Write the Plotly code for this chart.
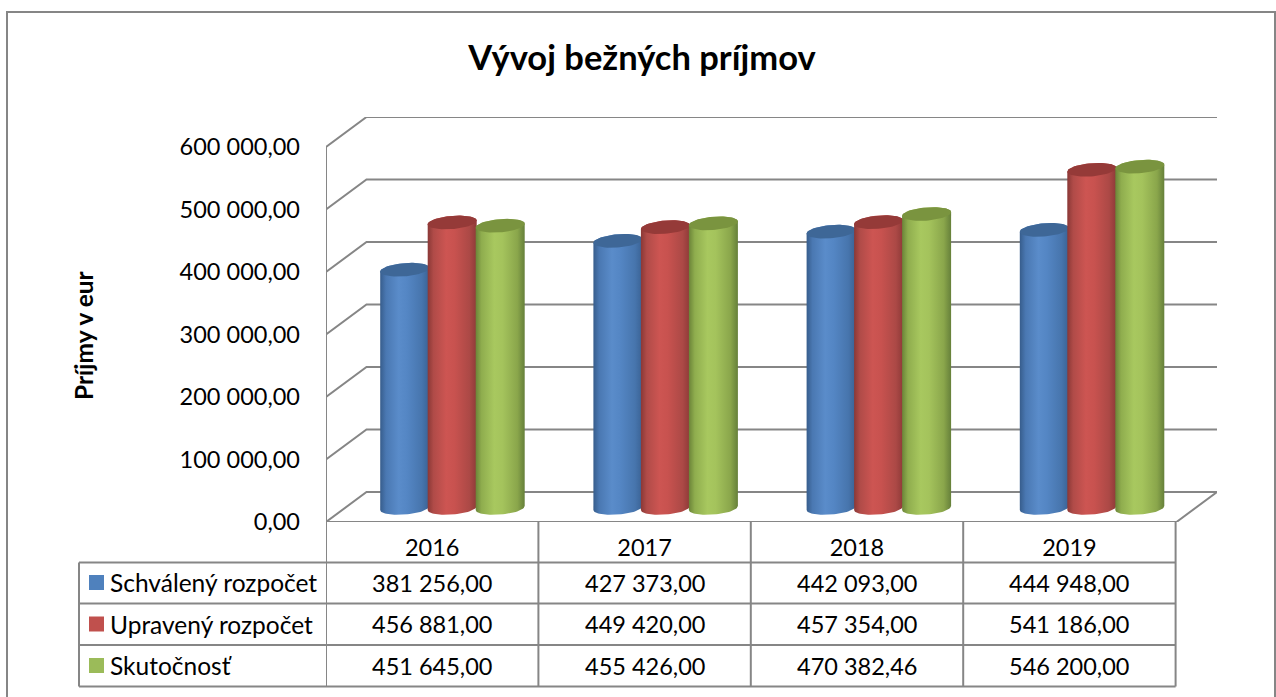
import numpy as np
import plotly.graph_objects as go

# ---------- data ----------
years = [2016, 2017, 2018, 2019]
schvaleny = [381256.00, 427373.00, 442093.00, 444948.00]
upraveny = [456881.00, 449420.00, 457354.00, 541186.00]
skutocnost = [451645.00, 455426.00, 470382.46, 546200.00]
series_names = ["Schválený rozpočet", "Upravený rozpočet", "Skutočnosť"]
y_ticks = [0, 100000, 200000, 300000, 400000, 500000, 600000]
title_text = "Vývoj bežných príjmov"
y_title = "Príjmy v eur"

# ---------- page geometry ----------
W, H = 1276, 697
L, R, T, B = 326.0, 1217.0, 117.0, 522.0      # plot box in page pixels
PX_PER_YEAR = 212.4
PX_PER_UNIT = 0.000625
X0 = 2015.5
X1 = X0 + (R - L) / PX_PER_YEAR
Y1 = (B - T) / PX_PER_UNIT
DX = 40.5 / PX_PER_YEAR                       # wall depth, in axis units
DY = 30.0 / PX_PER_UNIT
FONT = "Lato"
GREY = "#868686"
LINE = 2

def px(xpix):
    return (xpix - L) / (R - L)

def py(ypix):
    return (B - ypix) / (B - T)

def fmt(v):
    return f"{v:,.2f}".replace(",", " ").replace(".", ",")

# ---------- cylinders ----------
styles = [
    dict(side=["#375d8c", "#4a78b2", "#5a8cca", "#5486c4", "#4775ad", "#3a6294"], top="#3e6797", key="#4f81bd"),
    dict(side=["#8a3836", "#b04b48", "#cd5552", "#c8524f", "#ac4946", "#8e3a38"], top="#953a38", key="#c0504d"),
    dict(side=["#6b8438", "#8fad4e", "#a8c85f", "#a4c35c", "#8aa64b", "#66803a"], top="#7a943f", key="#9bbb59"),
]
stops = [0, 0.12, 0.38, 0.55, 0.85, 1]
BAR_W = 49.0 / PX_PER_YEAR
SEMI_X = BAR_W / 2
SEMI_Y = 6.6 / PX_PER_UNIT
TILT_Y = 1.9 / PX_PER_UNIT                    # rim tilt (right side higher)
FLOOR = 14.0 / PX_PER_UNIT                    # cylinder base above front axis line
OFFSETS = [-52.0 / PX_PER_YEAR, -4.5 / PX_PER_YEAR, 43.5 / PX_PER_YEAR]
SPREAD = 0.8 / PX_PER_YEAR                    # depth makes the clusters slightly wider apart

def rim(cx, cy, t0, t1, n=40):
    t = np.linspace(t0, t1, n)
    xs = cx + SEMI_X * np.cos(t)
    ys = cy + SEMI_Y * np.sin(t) + TILT_Y * np.cos(t)
    return xs, ys

fig = go.Figure()

all_values = [schvaleny, upraveny, skutocnost]

# real bars underneath the cylinder shading
for name, vals, st, off in zip(series_names, all_values, styles, OFFSETS):
    fig.add_trace(go.Bar(
        x=years, y=vals, base=FLOOR, name=name,
        width=BAR_W * 0.96, offset=[off + BAR_W * 0.02 + k * SPREAD for k in range(len(years))],
        marker=dict(color=st["key"], line=dict(width=0)),
        showlegend=False, hovertemplate="%{x}: %{y:,.2f}<extra>" + name + "</extra>",
    ))

# cylinder shading
for j, yr in enumerate(years):
    for vals, st, off in zip(all_values, styles, OFFSETS):
        cx = yr + off + BAR_W / 2 + j * SPREAD
        top = vals[j] + FLOOR
        bx, by = rim(cx, FLOOR, np.pi, 2 * np.pi)          # lower half of base
        tx, ty = rim(cx, top, 0, np.pi)                    # upper half of top
        fig.add_trace(go.Scatter(
            x=np.concatenate([bx, tx, bx[:1]]).tolist(),
            y=np.concatenate([by, ty, by[:1]]).tolist(),
            mode="lines", line=dict(width=0), fill="toself",
            fillgradient=dict(type="horizontal",
                              colorscale=[[s, c] for s, c in zip(stops, st["side"])]),
            hoverinfo="skip", showlegend=False,
        ))
        ex, ey = rim(cx, top, 0, 2 * np.pi, 60)
        fig.add_trace(go.Scatter(
            x=ex.tolist(), y=ey.tolist(), mode="lines", line=dict(width=0),
            fill="toself", fillcolor=st["top"], hoverinfo="skip", showlegend=False,
        ))

shapes = []
grid_line = dict(color=GREY, width=LINE)

# walls: diagonal + back gridline for each tick
left_x = X0
for v in y_ticks:
    shapes.append(dict(type="path", xref="x", yref="y", layer="below", line=grid_line,
                       path=f"M {left_x},{v} L {left_x + DX},{v + DY} L {X1},{v + DY}"))
# floor
shapes.append(dict(type="path", xref="x", yref="y", layer="below", line=grid_line,
                   path=f"M {X1},{DY} L {X1 - DX},0 L {left_x},0"))
# left axis
shapes.append(dict(type="line", xref="x", yref="y", layer="below", line=grid_line,
                   x0=left_x, x1=left_x, y0=0, y1=y_ticks[-1]))

# table
rows_y = [562.5, 603.5, 645.0, 686.5]
row_mid = [582.5, 624.0, 665.5]
col_edges = [years[0] - 0.5] + [y + 0.5 for y in years]
TABLE_LEFT = 79
for ry in rows_y:
    shapes.append(dict(type="line", xref="paper", yref="paper", line=grid_line,
                       x0=px(TABLE_LEFT), x1=px(L + (col_edges[-1] - X0) * PX_PER_YEAR),
                       y0=py(ry), y1=py(ry)))
shapes.append(dict(type="line", xref="paper", yref="paper", line=grid_line,
                   x0=px(TABLE_LEFT), x1=px(TABLE_LEFT), y0=py(rows_y[0]), y1=py(rows_y[-1])))
for c in col_edges:
    shapes.append(dict(type="line", xref="x", yref="paper", line=grid_line,
                       x0=c, x1=c, y0=py(B), y1=py(rows_y[-1])))

# outer frame (open at the bottom of the picture)
shapes.append(dict(type="path", xref="paper", yref="paper", line=dict(color=GREY, width=LINE),
                   path=f"M {px(7)},{py(H + 5)} L {px(7)},{py(12)} L {px(1275)},{py(12)} L {px(1275)},{py(H + 5)}"))

annotations = []
TXT = dict(family=FONT, size=23.5, color="#000000")
for name, vals, st, my in zip(series_names, all_values, styles, row_mid):
    shapes.append(dict(type="rect", xref="paper", yref="paper", line=dict(width=0),
                       fillcolor=st["key"], x0=px(89), x1=px(104), y0=py(my - 7.5), y1=py(my + 7.5)))
    annotations.append(dict(text=name, xref="paper", yref="paper", x=px(110), y=py(my),
                            xanchor="left", yanchor="middle", showarrow=False, borderpad=0, borderwidth=0,
                            font=dict(family=FONT, size=24.5, color="#000000")))
    for yr, v in zip(years, vals):
        annotations.append(dict(text=fmt(v), xref="x", yref="paper", x=yr, y=py(my),
                                xanchor="center", yanchor="middle", showarrow=False, font=TXT))

annotations.append(dict(text=f"<b>{y_title}</b>", xref="paper", yref="paper", x=px(83), y=py(335),
                        textangle=-90, xanchor="center", yanchor="middle", showarrow=False,
                        font=dict(family=FONT, size=24.5, color="#000000")))

fig.update_layout(
    width=W, height=H, autosize=False,
    margin=dict(l=L, r=W - R, t=T, b=H - B, pad=0),
    paper_bgcolor="white", plot_bgcolor="rgba(0,0,0,0)",
    separators=", ",
    title=dict(text=f"<b>{title_text}</b>", x=642 / W, y=1 - 58 / H, xanchor="center", yanchor="middle",
               xref="container", yref="container",
               font=dict(family=FONT, size=34.5, color="#000000")),
    barmode="overlay", showlegend=False,
    shapes=shapes, annotations=annotations,
    xaxis=dict(range=[X0, X1], tickvals=years, ticktext=[str(y) for y in years],
               showgrid=False, zeroline=False, showline=False, ticks="",
               tickfont=TXT, ticklabelstandoff=9, fixedrange=True),
    yaxis=dict(range=[0, Y1], tickvals=y_ticks, tickformat=",.2f",
               showgrid=False, zeroline=False, showline=False, ticks="",
               tickfont=TXT, ticklabelstandoff=25, fixedrange=True),
)

fig.write_html("out.html", config={"displayModeBar": False},
               post_script="document.body.style.margin='0';document.documentElement.style.overflow='hidden';")
